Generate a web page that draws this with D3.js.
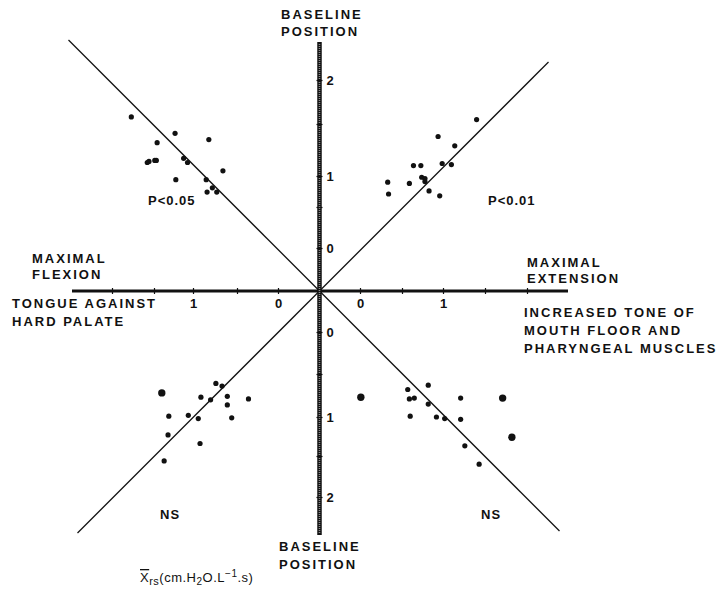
<!DOCTYPE html>
<html>
<head>
<meta charset="utf-8">
<script src="https://cdn.jsdelivr.net/npm/d3@7"></script>
<style>
  body { margin: 0; background: #fff; }
  svg text { font-family: "Liberation Sans", Arial, sans-serif; font-weight: bold; fill: #111; }
</style>
</head>
<body>
<svg id="chart" width="726" height="595"></svg>
<script>
// Graduations along every half-axis (same units on all four)
const halfTicks = [0, 0.5, 1, 1.5, 2];
const labelsHorizontal = [0, 1];
const labelsVertical = [0, 1, 2];

// Subjects per quadrant: [horizontal value, vertical value, overlapping subjects]
const upperLeft = [
  [1.77, 1.58, 1], [1.23, 1.41, 1], [0.82, 1.35, 1], [1.46, 1.32, 1],
  [1.58, 1.13, 1], [1.56, 1.14, 1], [1.49, 1.15, 1], [1.47, 1.15, 1],
  [1.12, 1.17, 1], [1.07, 1.13, 1], [0.66, 1.05, 1], [1.22, 0.94, 1],
  [0.85, 0.94, 1], [0.78, 0.81, 1], [0.84, 0.74, 1], [0.73, 0.74, 1]
];
const upperRight = [
  [1.40, 1.55, 1], [0.94, 1.38, 1], [1.14, 1.29, 1], [0.64, 1.10, 1],
  [0.73, 1.10, 1], [0.99, 1.12, 1], [1.10, 1.11, 1], [0.74, 0.98, 1],
  [0.78, 0.96, 1], [0.78, 0.91, 1], [0.33, 0.90, 1], [0.59, 0.88, 1],
  [0.83, 0.76, 1], [0.34, 0.71, 1], [0.96, 0.68, 1]
];
const lowerLeft = [
  [0.74, 0.61, 1], [0.67, 0.64, 1], [1.40, 0.72, 2], [0.91, 0.77, 1],
  [0.80, 0.80, 1], [0.61, 0.76, 1], [0.36, 0.79, 1], [0.61, 0.86, 1],
  [1.31, 0.99, 1], [1.06, 0.98, 1], [0.94, 1.02, 1], [0.56, 1.01, 1],
  [1.32, 1.23, 1], [0.92, 1.34, 1], [1.37, 1.56, 1]
];
const lowerRight = [
  [0.82, 0.63, 1], [0.57, 0.68, 1], [0.01, 0.77, 2], [0.59, 0.79, 1],
  [0.65, 0.78, 1], [1.21, 0.78, 1], [1.71, 0.78, 2], [0.82, 0.85, 1],
  [0.60, 0.99, 1], [0.92, 1.00, 1], [1.02, 1.02, 1], [1.21, 1.03, 1],
  [1.82, 1.26, 2], [1.26, 1.37, 1], [1.43, 1.60, 1]
];

// Significance of each quadrant
const quadrantNotes = ["P<0.05", "P<0.01", "NS", "NS"];

const svg = d3.select("#chart");
const ox = 319.5, oy = 291;

// Each half-axis is graduated by hand, hence a piecewise scale
const xLeft  = d3.scaleLinear().domain(halfTicks).range([278, 237, 193, 154, 112]);
const xRight = d3.scaleLinear().domain(halfTicks).range([360, 402, 443, 485, 527]);
const yUp    = d3.scaleLinear().domain(halfTicks).range([248, 207, 176, 124, 80]);
const yDown  = d3.scaleLinear().domain(halfTicks).range([332, 374, 417, 456, 497]);

// 45° reference lines through the origin
const diagonals = [[-1, -1, 251], [1, -1, 229], [-1, 1, 242], [1, 1, 240]];
svg.append("g").selectAll("line").data(diagonals).join("line")
  .attr("x1", ox).attr("y1", oy)
  .attr("x2", d => ox + d[0] * d[2]).attr("y2", d => oy + d[1] * d[2])
  .attr("stroke", "#111").attr("stroke-width", 1.3);

// Thick main axes
svg.append("line").attr("x1", 72).attr("x2", 568).attr("y1", oy).attr("y2", oy)
  .attr("stroke", "#111").attr("stroke-width", 3);
svg.append("line").attr("x1", ox).attr("x2", ox).attr("y1", 42).attr("y2", 535)
  .attr("stroke", "#111").attr("stroke-width", 4.5);
svg.append("line").attr("x1", ox).attr("x2", ox).attr("y1", 44).attr("y2", 533)
  .attr("stroke", "#8a8a8a").attr("stroke-width", 1.6).attr("stroke-dasharray", "1 1");

function styleAxis(g) {
  g.select(".domain").remove();
  g.selectAll(".tick line").attr("stroke", "#111").attr("stroke-width", 1.2);
  g.selectAll(".tick text").style("font-size", "13px");
}

// Horizontal graduations
[xLeft, xRight].forEach(sc => {
  svg.append("g").attr("transform", `translate(0,${oy - 3})`)
    .call(d3.axisBottom(sc).tickValues(halfTicks).tickSize(6)
      .tickFormat(d => labelsHorizontal.includes(d) ? d : ""))
    .call(styleAxis)
    .call(g => g.selectAll(".tick text").attr("y", 11).attr("dy", "0.71em"));
});

// Vertical graduations
[yUp, yDown].forEach(sc => {
  svg.append("g").attr("transform", `translate(${ox - 3},0)`)
    .call(d3.axisRight(sc).tickValues(halfTicks).tickSize(6)
      .tickFormat(d => labelsVertical.includes(d) ? d : ""))
    .call(styleAxis)
    .call(g => g.selectAll(".tick text").attr("x", 10).attr("dy", "0.36em")
      .attr("text-anchor", "start"));
});

// Subjects
const quadrants = [
  { data: upperLeft,  x: xLeft,  y: yUp },
  { data: upperRight, x: xRight, y: yUp },
  { data: lowerLeft,  x: xLeft,  y: yDown },
  { data: lowerRight, x: xRight, y: yDown }
];
quadrants.forEach(q => {
  svg.append("g").selectAll("circle").data(q.data).join("circle")
    .attr("cx", d => q.x(d[0])).attr("cy", d => q.y(d[1]))
    .attr("r", d => 2.6 * Math.sqrt(d[2]))
    .attr("fill", "#111");
});

// Axis captions and quadrant notes
const label = (x, y, lines, anchor = "start", size = 13, gap = 17.5) => {
  const t = svg.append("text").attr("x", x).attr("y", y)
    .attr("text-anchor", anchor).style("font-size", size + "px")
    .style("letter-spacing", "2px");
  lines.forEach((s, i) => t.append("tspan").attr("x", x).attr("dy", i ? gap : 0).text(s));
  return t;
};
label(281, 19, ["BASELINE", "POSITION"], "start", 13, 17);
label(279, 551, ["BASELINE", "POSITION"], "start", 13, 18);
label(32, 263, ["MAXIMAL", "FLEXION"], "start", 13, 16);
label(12, 308, ["TONGUE AGAINST", "HARD PALATE"], "start", 13, 18);
label(527, 267, ["MAXIMAL", "EXTENSION"], "start", 13, 16);
label(524, 317, ["INCREASED TONE OF", "MOUTH FLOOR AND", "PHARYNGEAL MUSCLES"], "start", 13, 17.8);

const notePos = [[148, 205], [488, 205], [160, 519], [481, 519]];
quadrantNotes.forEach((s, i) => {
  svg.append("text").attr("x", notePos[i][0]).attr("y", notePos[i][1])
    .style("font-size", "13px").style("letter-spacing", "1px").text(s);
});

// Units of the resistance scale
const unit = svg.append("text").attr("x", 140).attr("y", 582)
  .style("font-size", "13px").style("font-weight", "normal").style("letter-spacing", "0.5px");
unit.append("tspan").style("text-decoration", "overline").text("X");
unit.append("tspan").attr("dy", 3).style("font-size", "11px").text("rs");
unit.append("tspan").attr("dy", -3).text("(cm.H");
unit.append("tspan").attr("dy", 3).style("font-size", "10px").text("2");
unit.append("tspan").attr("dy", -3).text("O.L");
unit.append("tspan").attr("dy", -5).style("font-size", "10px").text("−1");
unit.append("tspan").attr("dy", 5).text(".s)");
</script>
</body>
</html>
